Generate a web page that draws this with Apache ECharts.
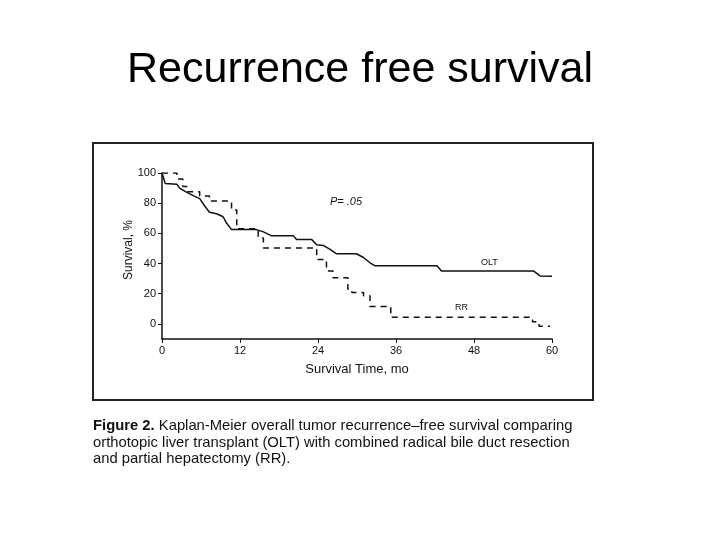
<!DOCTYPE html>
<html>
<head>
<meta charset="utf-8">
<script src="https://cdn.jsdelivr.net/npm/echarts@6/dist/echarts.min.js"></script>
<style>
  html, body { margin: 0; padding: 0; background: #fff; }
  #chart { width: 720px; height: 540px; }
</style>
</head>
<body>
<div id="chart"></div>
<script>
// OLT curve (months, survival %)
var oltTime = [0, 0.5, 2.3, 2.7, 3.7, 4.8, 5.8, 6.6, 7.3, 8.4, 9.4, 9.9, 10.7, 14.5, 15.6, 16.8, 20.2, 20.7, 23, 23.8, 24.8, 25.8, 26.8, 29.9, 31, 32, 32.8, 42.3, 43, 57.2, 58.2, 60];
var oltSurv = [100, 93, 92.5, 90, 87.5, 85, 83, 78, 74, 73, 71, 67, 62.5, 62.5, 61, 58.5, 58.5, 56, 56, 52.5, 52, 49.5, 46.5, 46.5, 44, 40.5, 38.5, 38.5, 35, 35, 31.7, 31.5];
// RR curve, step after each time point
var rrTime = [0, 2.3, 3.2, 4, 5.8, 7.3, 10.7, 11.5, 14.8, 15.6, 23.8, 25.3, 26.3, 28.6, 29.2, 31, 32, 35.2, 57, 58, 59.7];
var rrSurv = [100, 96, 91, 87.5, 84.7, 81.4, 75.5, 63, 57, 50.3, 42.7, 35, 30.6, 23, 20.8, 18.6, 11.6, 4.4, 1.5, -1.5, -1.5];
var yTicks = [0, 20, 40, 60, 80, 100];

function pairs(t, s) {
  var out = [];
  for (var i = 0; i < t.length; i++) out.push([t[i], s[i]]);
  return out;
}

var myChart = echarts.init(document.getElementById("chart"));
var font = "Arial, 'Liberation Sans', sans-serif";

myChart.setOption({
  animation: false,
  backgroundColor: "#fff",
  title: {
    text: "Recurrence free survival",
    left: "center",
    top: 44,
    textStyle: { fontFamily: font, fontSize: 43, fontWeight: "normal", color: "#000" }
  },
  grid: { left: 162, right: 168, top: 173, bottom: 201 },
  xAxis: {
    type: "value",
    min: 0,
    max: 60,
    interval: 12,
    name: "Survival Time, mo",
    nameLocation: "middle",
    nameGap: 24,
    nameTextStyle: { fontFamily: font, fontSize: 13, color: "#111" },
    axisLine: { onZero: false, lineStyle: { color: "#111", width: 1.5 } },
    axisTick: { length: 4, lineStyle: { color: "#111" } },
    axisLabel: { fontFamily: font, fontSize: 11, color: "#111", margin: 6 },
    splitLine: { show: false }
  },
  yAxis: {
    type: "value",
    min: -10,
    max: 100,
    axisLine: { show: true, onZero: false, lineStyle: { color: "#111", width: 1.5 } },
    axisTick: { show: true, length: 4, customValues: yTicks, lineStyle: { color: "#111" } },
    axisLabel: { fontFamily: font, fontSize: 11, color: "#111", margin: 6, customValues: yTicks },
    splitLine: { show: false }
  },
  series: [
    {
      name: "OLT",
      type: "line",
      data: pairs(oltTime, oltSurv),
      symbol: "none",
      lineStyle: { color: "#111", width: 1.5 }
    },
    {
      name: "RR",
      type: "line",
      step: "end",
      data: pairs(rrTime, rrSurv),
      symbol: "none",
      lineStyle: { color: "#111", width: 1.5, type: [6, 5] }
    }
  ],
  graphic: [
    {
      type: "rect",
      shape: { x: 93, y: 143, width: 500, height: 257 },
      style: { fill: "none", stroke: "#222", lineWidth: 2 }
    },
    {
      type: "text",
      x: 129, y: 250,
      rotation: Math.PI / 2,
      style: { text: "Survival, %", font: "12px " + font, fill: "#111", align: "center", verticalAlign: "middle" }
    },
    {
      type: "text",
      x: 330, y: 196,
      style: { text: "P= .05", font: "italic 11px " + font, fill: "#111" }
    },
    {
      type: "text",
      x: 481, y: 258,
      style: { text: "OLT", font: "9px " + font, fill: "#111" }
    },
    {
      type: "text",
      x: 455, y: 303,
      style: { text: "RR", font: "9px " + font, fill: "#111" }
    },
    {
      type: "text",
      x: 93, y: 418,
      style: {
        text: "{b|Figure 2.} Kaplan-Meier overall tumor recurrence\u2013free survival comparing\northotopic liver transplant (OLT) with combined radical bile duct resection\nand partial hepatectomy (RR).",
        font: "14.8px " + font,
        lineHeight: 16.5,
        fill: "#111",
        rich: { b: { fontWeight: "bold", fontSize: 14.8, fontFamily: font, fill: "#111" } }
      }
    }
  ]
});
</script>
</body>
</html>
